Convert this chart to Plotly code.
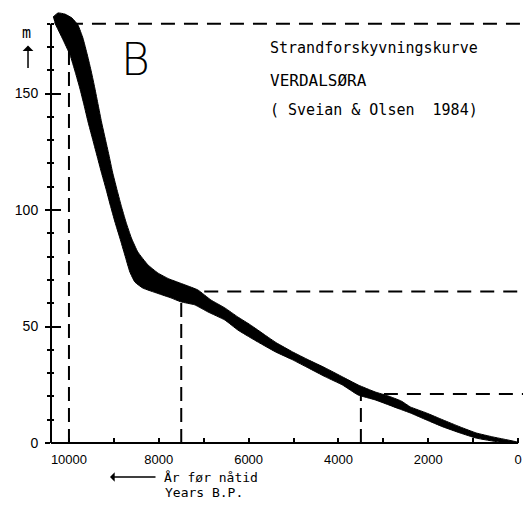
import plotly.graph_objects as go

# ---- data (years BP, metres above sea level) ----
upper_years = [10356, 10244, 10089, 9933, 9800, 9689, 9590, 9500, 9425, 9350, 9275, 9195,
               9110, 9030, 8940, 8840, 8730, 8610, 8467, 8244, 8022, 7780, 7420, 7130,
               6840, 6530, 6240, 5960, 5640, 5380, 5020, 4670, 4290, 3910, 3560, 3180,
               2890, 2600, 2400, 2040, 1670, 1290, 930, 560, 20]
upper_elev = [182.8, 184.6, 184.1, 182.4, 179.4, 173.8, 166.5, 159.2, 152.4, 145.1, 137.8, 130.9,
              123.6, 116.3, 109.4, 102.1, 94.8, 88.0, 82.0, 76.5, 73.0, 70.5, 67.9, 65.7,
              61.4, 58.0, 54.1, 50.7, 46.4, 43.0, 39.1, 35.7, 32.2, 28.4, 24.9, 21.9,
              20.2, 18.0, 15.5, 12.9, 9.9, 6.9, 4.3, 2.6, 0.4]
lower_years = [0, 420, 930, 1290, 1670, 2040, 2400, 2640, 3180, 3560, 3910, 4290, 4670,
               5020, 5400, 5870, 6240, 6530, 6910, 7200, 7510, 7730, 8022, 8356, 8533,
               8644, 8756, 8867, 8975, 9080, 9180, 9280, 9380, 9480, 9575, 9665, 9760,
               9860, 9975, 10150, 10320]
lower_elev = [0, 0.4, 2.1, 4.3, 6.9, 9.9, 12.9, 14.6, 18.5, 20.6, 24.9, 28.4, 32.2,
              35.7, 39.1, 44.2, 48.5, 52.8, 56.3, 59.3, 60.6, 62.3, 64.2, 66.5, 69.1,
              73.4, 80.7, 88.0, 94.8, 102.1, 109.4, 116.3, 123.6, 130.9, 137.8, 145.1, 152.4,
              159.2, 166.5, 173.8, 180.5]

ref_years = [10000, 7500, 3500]
ref_levels = [180, 65, 21]

x_axis_start = 10400
y_axis_top = 180

x_tickvals = [10000, 8000, 6000, 4000, 2000, 0]
x_ticktext = ["10000", "8000", "6000", "4000", "2000", "0"]
y_tickvals = [0, 50, 100, 150]
y_ticktext = ["0", "50", "100", "150"]

title_lines = ["Strandforskyvningskurve", "VERDALSØRA", "( Sveian & Olsen  1984)"]

X_RANGE = [10400, -110]
Y_RANGE = [0, 185]

fig = go.Figure()
poly_x = upper_years + lower_years
poly_y = upper_elev + lower_elev
fig.add_trace(go.Scatter(x=poly_x, y=poly_y, mode="lines", fill="toself",
                         fillcolor="black", line=dict(color="black", width=1, shape="spline", smoothing=0.4),
                         hoverinfo="skip", showlegend=False))
# invisible copy so that the overlay axis (cross ticks) is drawn
fig.add_trace(go.Scatter(x=poly_x, y=poly_y, yaxis="y2", mode="lines",
                         line=dict(width=0), opacity=0, hoverinfo="skip", showlegend=False))

shapes = []
for yr, lv in zip(ref_years, ref_levels):
    shapes.append(dict(type="line", xref="x", yref="y", x0=yr, x1=yr, y0=0, y1=lv,
                       line=dict(color="black", width=2, dash="14px,7px"), layer="below"))
    shapes.append(dict(type="line", xref="x", yref="y", x0=yr, x1=X_RANGE[1], y0=lv, y1=lv,
                       line=dict(color="black", width=2, dash="14px,9px"), layer="below"))
# axis lines
shapes.append(dict(type="line", xref="paper", yref="y", x0=0, x1=0, y0=0, y1=y_axis_top,
                   line=dict(color="black", width=2)))
shapes.append(dict(type="line", xref="x", yref="paper", x0=x_axis_start, x1=0, y0=0, y1=0,
                   line=dict(color="black", width=2)))

tickfont = dict(family="Liberation Sans, Arial, sans-serif", size=13, color="black")
ytickfont = dict(family="Liberation Sans, Arial, sans-serif", size=14, color="black")
mono = "DejaVu Sans Mono, monospace"

annotations = [
    dict(x=8511, y=164.8, xref="x", yref="y", text="B", showarrow=False,
         font=dict(family="DejaVu Sans ExtraLight, DejaVu Sans Light, Liberation Sans, Arial", size=44, color="black"),
         xanchor="center", yanchor="middle"),
    dict(x=5578, y=169.5, xref="x", yref="y", text=title_lines[0], showarrow=False,
         font=dict(family=mono, size=15, color="black"), xanchor="left", yanchor="middle"),
    dict(x=5578, y=155.8, xref="x", yref="y", text=title_lines[1], showarrow=False,
         font=dict(family=mono, size=16, color="black"), xanchor="left", yanchor="middle"),
    dict(x=5578, y=143.0, xref="x", yref="y", text=title_lines[2], showarrow=False,
         font=dict(family=mono, size=15, color="black"), xanchor="left", yanchor="middle"),
    dict(x=-0.0529, y=0.951, xref="paper", yref="paper", text="m", showarrow=False,
         font=dict(family=mono, size=15, color="black"), xanchor="center", yanchor="middle"),
    dict(x=-0.0487, y=0.922, xref="paper", yref="paper", text="", showarrow=True,
         ax=0, ay=24, arrowhead=1, arrowsize=1.2, arrowwidth=1.5, arrowcolor="black"),
    dict(x=0.125, y=-0.0789, xref="paper", yref="paper", text="", showarrow=True,
         ax=47, ay=0, arrowhead=1, arrowsize=1.2, arrowwidth=1.3, arrowcolor="black"),
    dict(x=0.235, y=-0.0789, xref="paper", yref="paper", text="År før nåtid", showarrow=False,
         font=dict(family=mono, size=13, color="black"), xanchor="left", yanchor="middle"),
    dict(x=0.237, y=-0.1137, xref="paper", yref="paper", text="Years B.P.", showarrow=False,
         font=dict(family=mono, size=13, color="black"), xanchor="left", yanchor="middle"),
]

# the page body adds an 8px margin, so the figure is sized to fill the rest of the window
fig.update_layout(
    width=515, height=494,
    margin=dict(l=43, r=0, t=4, b=59, autoexpand=False),
    paper_bgcolor="white", plot_bgcolor="white",
    showlegend=False,
    shapes=shapes, annotations=annotations,
    xaxis=dict(range=X_RANGE, autorange=False, automargin=False, showgrid=False, zeroline=False,
               showline=False, tickmode="array", tickvals=x_tickvals, ticktext=x_ticktext,
               ticks="inside", ticklen=5, tickwidth=1.5, tickcolor="black",
               minor=dict(tick0=0, dtick=1000, ticks="inside", ticklen=5, tickwidth=1.5,
                          tickcolor="black", showgrid=False),
               tickfont=tickfont, ticklabelstandoff=7),
    yaxis=dict(range=Y_RANGE, autorange=False, automargin=False, showgrid=False, zeroline=False,
               showline=False, tickmode="array", tickvals=y_tickvals, ticktext=y_ticktext,
               ticks="outside", ticklen=5, tickwidth=1.5, tickcolor="black",
               minor=dict(tick0=0, dtick=10, ticks="outside", ticklen=3, tickwidth=1.5,
                          tickcolor="black", showgrid=False),
               tickfont=ytickfont, ticklabelstandoff=4),
    yaxis2=dict(range=Y_RANGE, autorange=False, automargin=False, overlaying="y", side="left",
                showgrid=False, zeroline=False, showline=False, showticklabels=False,
                tickmode="array", tickvals=y_tickvals,
                ticks="inside", ticklen=10, tickwidth=1.5, tickcolor="black",
                minor=dict(tick0=0, dtick=10, ticks="inside", ticklen=3, tickwidth=1.5,
                           tickcolor="black", showgrid=False)),
)

fig.write_html("out.html")
